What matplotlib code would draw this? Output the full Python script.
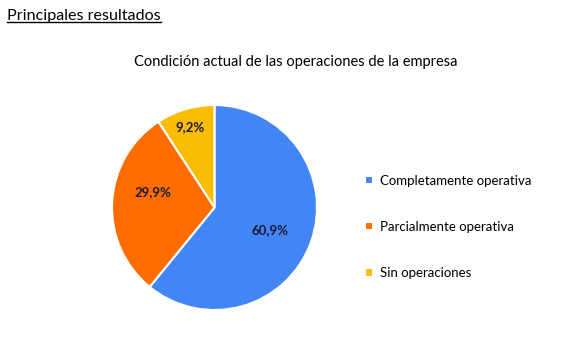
import numpy as np
import matplotlib.pyplot as plt
from matplotlib.lines import Line2D

plt.rcParams['font.family'] = ['Lato', 'DejaVu Sans']

# data
categories = ['Completamente operativa', 'Parcialmente operativa', 'Sin operaciones']
values = [60.9, 29.9, 9.2]
colors = ['#4285F4', '#FF6D01', '#FBBC04']

fig = plt.figure(figsize=(5.65, 3.63), dpi=100)

# header, underlined
hdr = fig.text(0.013, 0.955, 'Principales resultados', fontsize=11.6, va='center', ha='left')
fig.canvas.draw()
bb = hdr.get_window_extent().transformed(fig.transFigure.inverted())
fig.add_artist(Line2D([bb.x0, bb.x1], [bb.y0 + 0.004, bb.y0 + 0.004], color='black', lw=1.0,
                      transform=fig.transFigure))

fig.text(0.524, 0.829, 'Condición actual de las operaciones de la empresa', fontsize=10.5,
         ha='center', va='center')

ax = fig.add_axes([0.1982, 0.146, 0.3628, 0.5647])
wedges, texts, autotexts = ax.pie(values, colors=colors, startangle=90, counterclock=False,
                                  autopct=lambda p: f'{p:.1f}%'.replace('.', ','),
                                  pctdistance=0.6,
                                  wedgeprops=dict(edgecolor='white', linewidth=1.5),
                                  textprops=dict(fontsize=9.5, fontweight='bold', color='#1a1a33'))
ax.set_xlim(-1.0, 1.0)
ax.set_ylim(-1.0, 1.0)
ax.set_aspect('equal')

# label placement like the original: small slice label further out
label_dist = [0.58, 0.6, 0.82]
label_lift = [-0.03, 0.12, 0.0]
for w, t, d, lift in zip(wedges, autotexts, label_dist, label_lift):
    mid = np.deg2rad((w.theta1 + w.theta2) / 2)
    t.set_position((d * np.cos(mid), d * np.sin(mid) + lift))

fig.legend(wedges, categories, loc='center left', bbox_to_anchor=(0.625, 0.375),
           frameon=False, fontsize=9.5, handlelength=0.6, handleheight=0.6,
           handletextpad=0.5, labelspacing=2.6)

fig.savefig('out.png', dpi=100)
